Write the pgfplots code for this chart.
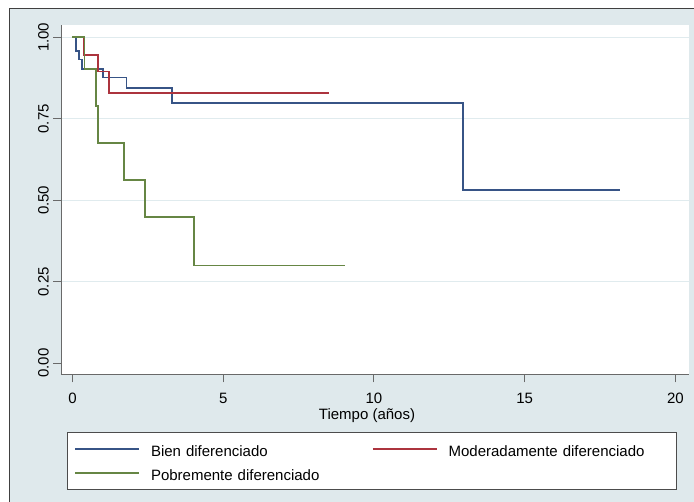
\documentclass[border=0pt]{standalone}
\usepackage{fontspec}
\setmainfont{Liberation Sans}
\usepackage{pgfplots}
\pgfplotsset{compat=1.18}

\definecolor{graphbg}{RGB}{223,233,236}
\definecolor{gridc}{RGB}{224,235,238}
\definecolor{kmblue}{RGB}{55,84,134}
\definecolor{kmred}{RGB}{172,52,62}
\definecolor{kmgreen}{RGB}{102,134,68}
\definecolor{axisc}{RGB}{105,105,105}

\begin{document}
\begin{tikzpicture}[font=\fontsize{15bp}{18bp}\selectfont]
\useasboundingbox (0bp,0bp) rectangle (694bp,502bp);
% graph region
\fill[white] (0bp,0bp) rectangle (694bp,502bp);
\fill[graphbg] (9.5bp,0bp) rectangle (694bp,493.5bp);
\draw[black!75, line width=1.5bp] (9.5bp,0bp) -- (9.5bp,493.5bp) -- (694bp,493.5bp);

\begin{axis}[
  at={(61.3bp,127.7bp)}, anchor=south west,
  scale only axis, width=627.7bp, height=349.3bp,
  xmin=-0.37, xmax=20.45, ymin=-0.034, ymax=1.038,
  axis background/.style={fill=white},
  axis x line*=bottom, axis y line*=left,
  axis line style={axisc, line width=1bp},
  tick align=outside, major tick length=8bp,
  tick style={axisc, line width=1bp},
  xtick={0,5,10,15,20},
  ytick={0.25,0.5,0.75,1},
  extra y ticks={0},
  extra y tick style={grid=none},
  ymajorgrids, grid style={gridc, line width=1.3bp},
  /pgf/number format/assume math mode=true,
  yticklabel style={/pgf/number format/fixed, /pgf/number format/fixed zerofill,
    /pgf/number format/precision=2},
  yticklabel style={xshift=-4.6bp, rotate=90, anchor=base},
  xticklabel style={anchor=base, yshift=-20.7bp},
  xlabel={Tiempo (años)},
  x label style={at={(axis description cs:0.487,-0.1194)}, anchor=center},
  legend columns=2,
  legend cell align=left,
  legend image code/.code={\draw[#1, line width=1.6bp] (0bp,0bp) -- (64bp,0bp);},
  legend style={at={(axis description cs:0.00908,-0.1643)}, anchor=north west,
    draw=black!70, line width=0.8bp, fill=white,
    inner xsep=7bp, inner ysep=6bp, row sep=2.7bp,
    /tikz/every odd column/.append style={column sep=11bp},
    /tikz/every even column/.append style={column sep=0bp},
    nodes={inner sep=0pt, text width=221bp, text height=18.3bp, text depth=3bp, align=left}},
]
\addplot[kmblue, line width=1.8bp, const plot] coordinates {
  (0,1) (0.13,0.957) (0.21,0.932) (0.32,0.904) (1.02,0.877)
  (1.79,0.845) (3.30,0.798) (12.95,0.532) (18.15,0.532)};
\addlegendentry{Bien diferenciado}
\addplot[kmred, line width=1.8bp, const plot] coordinates {
  (0,1) (0.37,0.947) (0.84,0.895) (1.20,0.829) (8.50,0.829)};
\addlegendentry{Moderadamente diferenciado}
\addplot[kmgreen, line width=1.8bp, const plot] coordinates {
  (0,1) (0.40,0.904) (0.78,0.79) (0.85,0.675) (1.70,0.562)
  (2.41,0.449) (4.03,0.300) (9.04,0.300)};
\addlegendentry{Pobremente diferenciado}
\end{axis}
\end{tikzpicture}
\end{document}
